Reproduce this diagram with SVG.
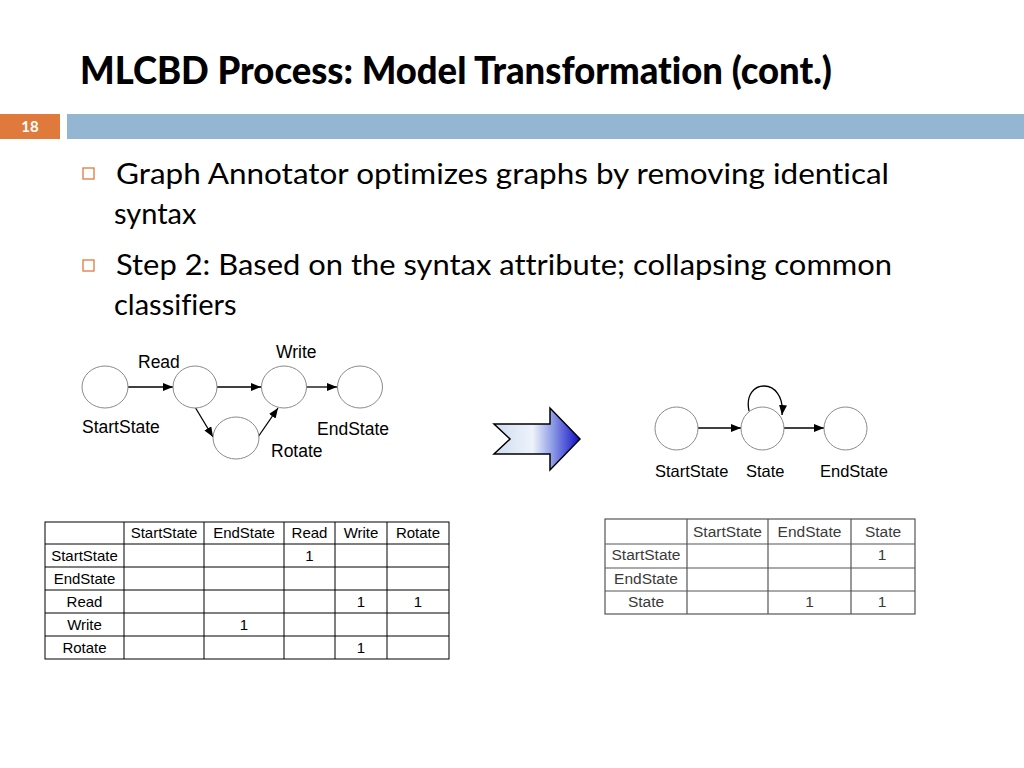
<svg xmlns="http://www.w3.org/2000/svg" width="1024" height="768" viewBox="0 0 1024 768">
<defs>
<style>
text{font-variant-ligatures:none;font-feature-settings:"liga" 0,"clig" 0}
.title{font-family:Lato,"Open Sans","Liberation Sans",sans-serif;font-weight:900;font-size:38px;fill:#000}
.bul{font-family:Lato,"Open Sans","Liberation Sans",sans-serif;font-size:29px;fill:#000}
.lbl{font-family:"Liberation Sans",Arial,sans-serif;font-size:17.5px;fill:#000}
.lbl2{font-family:"Liberation Sans",Arial,sans-serif;font-size:16.5px;fill:#000}
.cell{font-family:"Liberation Sans",Arial,sans-serif;font-size:15px;fill:#000;text-anchor:middle}
.cell2{font-family:"Liberation Sans",Arial,sans-serif;font-size:15.5px;fill:#3a3a3a;text-anchor:middle}
.node{fill:#fff;stroke:#8a8a8a;stroke-width:1}
.edge{stroke:#000;stroke-width:1.3;fill:none;marker-end:url(#ah)}
.grid{stroke:#000;stroke-width:1;fill:none}
.grid2{stroke:#555;stroke-width:1.2;fill:none}
.box{fill:none;stroke:#e07a3c;stroke-width:1.3}
</style>
<marker id="ah" markerWidth="10" markerHeight="8" refX="10" refY="4" orient="auto" markerUnits="userSpaceOnUse">
<path d="M0,0 L10,4 L0,8 z" fill="#000"/>
</marker>
<linearGradient id="gr" x1="494" y1="0" x2="580" y2="0" gradientUnits="userSpaceOnUse">
<stop offset="0" stop-color="#cfdcf2"/>
<stop offset="0.45" stop-color="#eef3fb"/>
<stop offset="0.65" stop-color="#9aa8e8"/>
<stop offset="1" stop-color="#1010c8"/>
</linearGradient>
</defs>
<rect width="1024" height="768" fill="#fff"/>
<g id="header">
<text class="title" x="80" y="84" textLength="752" lengthAdjust="spacingAndGlyphs">MLCBD Process: Model Transformation (cont.)</text>
<rect x="0" y="114" width="60" height="25" fill="#e07a3c"/>
<rect x="67" y="114" width="957" height="25" fill="#94b6d3"/>
<text x="30" y="131.5" font-family="Lato,'Liberation Sans',sans-serif" font-weight="bold" font-size="15" fill="#fff" text-anchor="middle">18</text>
</g>
<g id="bullets">
<rect class="box" x="83" y="168" width="11" height="11"/>
<text class="bul" x="116" y="184" textLength="773" lengthAdjust="spacingAndGlyphs">Graph Annotator optimizes graphs by removing identical</text>
<text class="bul" x="114" y="224">syntax</text>
<rect class="box" x="83" y="260" width="11" height="11"/>
<text class="bul" x="116" y="275" textLength="776" lengthAdjust="spacingAndGlyphs">Step 2: Based on the syntax attribute; collapsing common</text>
<text class="bul" x="114" y="315">classifiers</text>
</g>
<g id="left-graph">
<g id="connectors-left">
<line class="edge" x1="128" y1="387" x2="173" y2="387"/>
<line class="edge" x1="217" y1="387" x2="261" y2="387"/>
<line class="edge" x1="306" y1="387" x2="337" y2="387"/>
<line class="edge" x1="195" y1="407" x2="213" y2="437"/>
<line class="edge" x1="258" y1="437" x2="278" y2="408"/>
</g>
<g id="n-start"><ellipse class="node" cx="105" cy="387" rx="23" ry="21"/><text class="lbl" x="82" y="433">StartState</text></g>
<g id="n-read"><ellipse class="node" cx="195" cy="387" rx="22" ry="21"/><text class="lbl" x="138" y="368">Read</text></g>
<g id="n-write"><ellipse class="node" cx="284" cy="387" rx="22.5" ry="21"/><text class="lbl" x="276" y="358">Write</text></g>
<g id="n-end"><ellipse class="node" cx="360" cy="387" rx="22.5" ry="21"/><text class="lbl" x="317" y="435">EndState</text></g>
<g id="n-rotate"><ellipse class="node" cx="236" cy="438" rx="23" ry="21"/><text class="lbl" x="271" y="457">Rotate</text></g>
</g>
<g id="transform-arrow">
<path d="M494,424 L550,424 L550,408 L580,439 L550,470 L550,454 L494,454 L510,439 Z" fill="url(#gr)" stroke="#000" stroke-width="1.5" stroke-linejoin="miter"/>
</g>
<g id="right-graph">
<g id="connectors-right">
<line class="edge" x1="698" y1="428" x2="741" y2="428"/>
<line class="edge" x1="784" y1="428" x2="824" y2="428"/>
<path class="edge" d="M749,411 C742,378 786,376 782,415"/>
</g>
<g id="r-start"><circle class="node" cx="676.5" cy="428.5" r="21.5"/><text class="lbl2" x="655" y="477">StartState</text></g>
<g id="r-state"><circle class="node" cx="762.5" cy="428.5" r="21.5"/><text class="lbl2" x="746" y="477">State</text></g>
<g id="r-end"><circle class="node" cx="845.5" cy="428.5" r="21.5"/><text class="lbl2" x="820" y="477">EndState</text></g>
</g>
<g id="table-left">
<rect class="grid" x="45" y="522" width="404" height="137"/>
<path class="grid" d="M124,522V659M204,522V659M284,522V659M335,522V659M387,522V659M45,544H449M45,567H449M45,590H449M45,613H449M45,636H449"/>
<text class="cell" x="164" y="538">StartState</text>
<text class="cell" x="244" y="538">EndState</text>
<text class="cell" x="309.5" y="538">Read</text>
<text class="cell" x="361" y="538">Write</text>
<text class="cell" x="418" y="538">Rotate</text>
<text class="cell" x="84.5" y="561">StartState</text>
<text class="cell" x="84.5" y="584">EndState</text>
<text class="cell" x="84.5" y="607">Read</text>
<text class="cell" x="84.5" y="630">Write</text>
<text class="cell" x="84.5" y="653">Rotate</text>
<text class="cell" x="309.5" y="561">1</text>
<text class="cell" x="361" y="607">1</text>
<text class="cell" x="418" y="607">1</text>
<text class="cell" x="244" y="630">1</text>
<text class="cell" x="361" y="653">1</text>
</g>
<g id="table-right">
<rect class="grid2" x="605" y="519" width="310" height="95"/>
<path class="grid2" d="M687,519V614M768,519V614M851,519V614M605,544H915M605,568H915M605,591H915"/>
<text class="cell2" x="727.5" y="537">StartState</text>
<text class="cell2" x="809.5" y="537">EndState</text>
<text class="cell2" x="883" y="537">State</text>
<text class="cell2" x="646" y="560">StartState</text>
<text class="cell2" x="646" y="584">EndState</text>
<text class="cell2" x="646" y="607">State</text>
<text class="cell2" x="882" y="560">1</text>
<text class="cell2" x="809.5" y="607">1</text>
<text class="cell2" x="882" y="607">1</text>
</g>
</svg>
